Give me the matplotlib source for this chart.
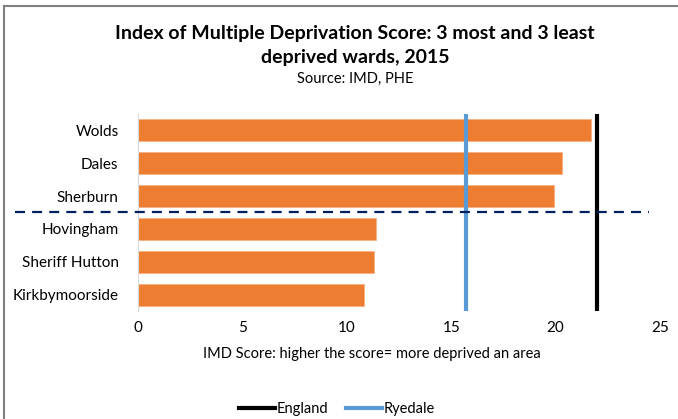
import numpy as np
import matplotlib.pyplot as plt

plt.rcParams['font.family'] = ['Lato', 'DejaVu Sans']

wards = ['Wolds', 'Dales', 'Sherburn', 'Hovingham', 'Sheriff Hutton', 'Kirkbymoorside']
scores = [21.7, 20.3, 19.9, 11.4, 11.3, 10.8]
england = 22.0
ryedale = 15.7
split_after = 3  # 3 most deprived above the line, 3 least below

fig = plt.figure(figsize=(6.78, 4.19), dpi=100)
ax = fig.add_axes([0.2035, 0.2578, 0.77, 0.4701])

y = np.arange(len(wards))
ax.barh(y, scores, height=0.67, color='#ED7D31', edgecolor='#F4B183', linewidth=0.6, zorder=2)
ax.axvline(england, color='black', lw=3, label='England', zorder=3)
ax.axvline(ryedale, color='#5B9BD5', lw=3, label='Ryedale', zorder=3)

# separator between most and least deprived
ax.plot([-5.9, 24.45], [split_after - 0.5] * 2, color='#002060', lw=1.6,
        dashes=(4.5, 3.2), clip_on=False, zorder=4)

ax.set_ylim(len(wards) - 0.5, -0.5)
ax.set_xlim(0, 25)
ax.set_xticks(np.arange(0, 26, 5))
ax.set_yticks(y)
ax.set_yticklabels(wards, fontsize=11)
ax.tick_params(axis='x', length=0, labelsize=11, pad=7)
ax.tick_params(axis='y', length=0, pad=14)
for s in ['top', 'right', 'bottom']:
    ax.spines[s].set_visible(False)
ax.spines['left'].set_color('#D9D9D9')
ax.set_xlabel('IMD Score: higher the score= more deprived an area', fontsize=10.5, labelpad=8)
ax.xaxis.set_label_coords(0.448, -0.185)

fig.text(0.524, 0.921, 'Index of Multiple Deprivation Score: 3 most and 3 least',
         ha='center', va='center', fontsize=14, fontweight='bold')
fig.text(0.524, 0.862, 'deprived wards, 2015', ha='center', va='center',
         fontsize=14, fontweight='bold')
fig.text(0.524, 0.812, 'Source: IMD, PHE', ha='center', va='center', fontsize=10.5)

fig.legend(loc='center', bbox_to_anchor=(0.497, 0.024), ncol=2, frameon=False,
           fontsize=10.5, handlelength=2.5, handletextpad=0.1, columnspacing=1.2)

# chart border (left and top edges visible)
fig.add_artist(plt.Line2D([0.0066, 0.0066], [0, 0.986], color='#7F7F7F', lw=1.5,
                          transform=fig.transFigure))
fig.add_artist(plt.Line2D([0.0066, 1], [0.986, 0.986], color='#7F7F7F', lw=1.5,
                          transform=fig.transFigure))

fig.savefig('out.png', dpi=100)
